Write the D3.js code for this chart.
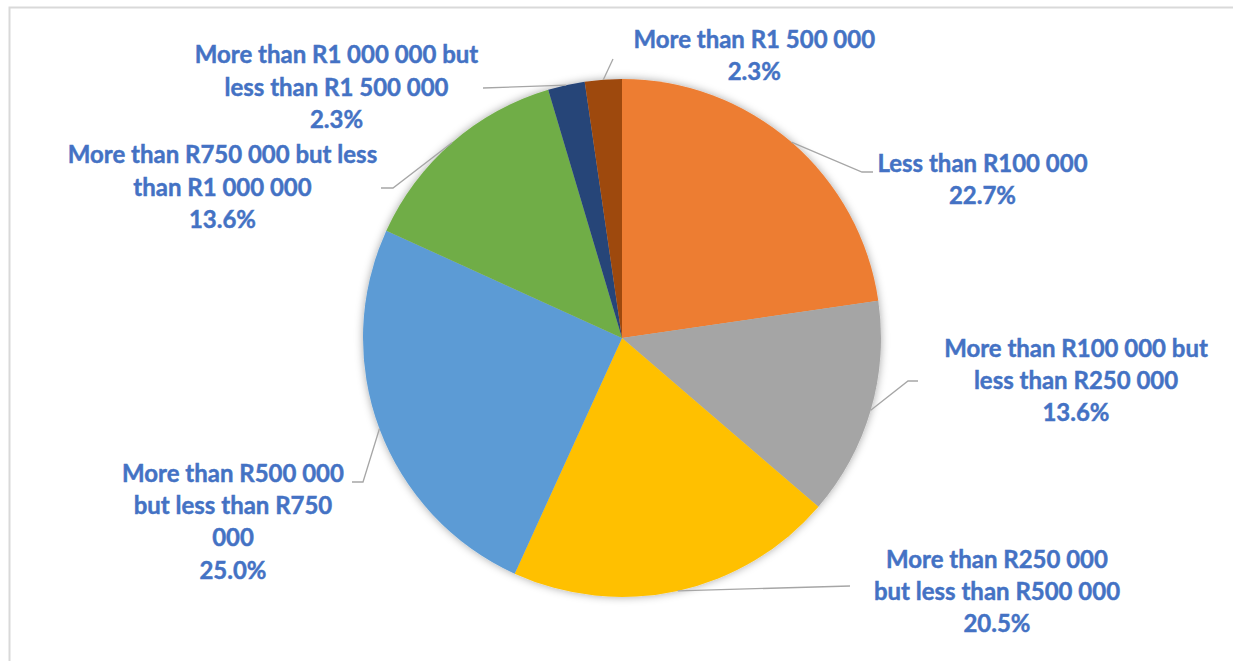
<!DOCTYPE html>
<html>
<head>
<meta charset="utf-8">
<script src="https://cdn.jsdelivr.net/npm/d3@7"></script>
<style>
  html, body { margin: 0; padding: 0; background: #ffffff; }
  svg { display: block; }
</style>
</head>
<body>
<svg id="chart" width="1233" height="661"></svg>
<script>
// Income brackets, clockwise from 12 o'clock
const categories = [
  "Less than R100 000",
  "More than R100 000 but less than R250 000",
  "More than R250 000 but less than R500 000",
  "More than R500 000 but less than R750 000",
  "More than R750 000 but less than R1 000 000",
  "More than R1 000 000 but less than R1 500 000",
  "More than R1 500 000"
];
const shares = [22.7, 13.6, 20.5, 25.0, 13.6, 2.3, 2.3];
const colors = ["#ED7D31", "#A5A5A5", "#FFC000", "#5B9BD5", "#70AD47", "#264478", "#9E480E"];

// Wrapped label text for each bracket
const labelLines = [
  ["Less than R100 000"],
  ["More than R100 000 but", "less than R250 000"],
  ["More than R250 000", "but less than R500 000"],
  ["More than R500 000", "but less than R750", "000"],
  ["More than R750 000 but less", "than R1 000 000"],
  ["More than R1 000 000 but", "less than R1 500 000"],
  ["More than R1 500 000"]
];

const W = 1233, H = 661;
const cx = 622, cy = 338, R = 259;
const lineGap = 32.3;

// Label block placement: centre x, first baseline, and the leader elbow/end points
const labelLayout = [
  { x: 982.5, y: 171.7, path: [[862, 172], [873, 172]] },
  { x: 1076,  y: 356.7, path: [[908, 381], [918, 381]] },
  { x: 997,   y: 567.7, path: [[850, 586]] },
  { x: 233,   y: 481.7, path: [[363, 482], [352, 482]] },
  { x: 222.5, y: 163.3, path: [[393, 188], [381, 188]] },
  { x: 336.5, y: 63.3,  path: [[483, 88]] },
  { x: 754.3, y: 47.7,  path: [[613, 59]] }
];

const svg = d3.select("#chart");

// Chart frame
svg.append("rect")
  .attr("x", 9.5).attr("y", 7.5)
  .attr("width", W + 20).attr("height", H + 20)
  .attr("fill", "#ffffff")
  .attr("stroke", "#d9d9d9").attr("stroke-width", 2);

// Soft outer shadow under the pie
const defs = svg.append("defs");
const f = defs.append("filter").attr("id", "pieShadow")
  .attr("x", "-10%").attr("y", "-10%").attr("width", "120%").attr("height", "120%");
f.append("feDropShadow")
  .attr("dx", 0).attr("dy", 0).attr("stdDeviation", 4)
  .attr("flood-color", "#000000").attr("flood-opacity", 0.35);

const pie = d3.pie().sort(null).value(d => d)(shares);
const arc = d3.arc().innerRadius(0).outerRadius(R);

const g = svg.append("g").attr("transform", `translate(${cx},${cy})`);
g.append("g").attr("filter", "url(#pieShadow)")
  .selectAll("path")
  .data(pie)
  .join("path")
  .attr("d", arc)
  .attr("fill", (d, i) => colors[i]);

// Font size tuned so the label face runs at the intended width
const fontFamily = "Lato, 'Open Sans', sans-serif";
const probe = svg.append("text")
  .attr("font-family", fontFamily).attr("font-weight", 700)
  .attr("font-size", 26).text("More than R1 500 000");
const probeW = probe.node().getComputedTextLength();
probe.remove();
const fontSize = 26 * 241.7 / probeW;

// Leader lines from slice mid-angle on the rim to the label
const edgePoint = d => {
  const a = (d.startAngle + d.endAngle) / 2;
  return [cx + R * Math.sin(a), cy - R * Math.cos(a)];
};
const line = d3.line();
svg.append("g")
  .selectAll("path")
  .data(pie)
  .join("path")
  .attr("d", (d, i) => line([edgePoint(d), ...labelLayout[i].path]))
  .attr("fill", "none")
  .attr("stroke", "#a6a6a6")
  .attr("stroke-width", 1.3);

// Labels: wrapped category text plus percentage
const fmt = d3.format(".1f");
const labels = svg.append("g")
  .attr("font-family", fontFamily)
  .attr("font-weight", 700)
  .attr("font-size", fontSize)
  .attr("fill", "#4472C4")
  .attr("stroke", "#4472C4")
  .attr("stroke-width", 0.45)
  .attr("text-anchor", "middle");

pie.forEach((d, i) => {
  const lay = labelLayout[i];
  const lines = [...labelLines[i], fmt(d.data) + "%"];
  const t = labels.append("text").attr("x", lay.x).attr("y", lay.y);
  lines.forEach((s, k) => {
    t.append("tspan")
      .attr("x", lay.x)
      .attr("y", lay.y + k * lineGap)
      .text(s);
  });
});
</script>
</body>
</html>
